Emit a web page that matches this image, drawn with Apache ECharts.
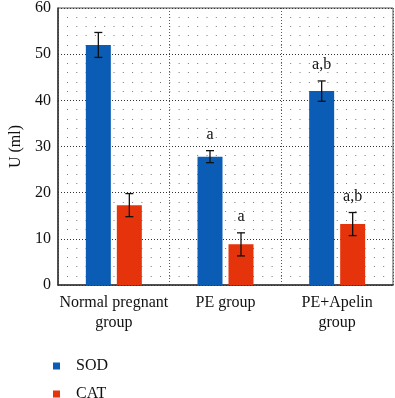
<!DOCTYPE html>
<html>
<head>
<meta charset="utf-8">
<script src="https://cdn.jsdelivr.net/npm/echarts@6/dist/echarts.min.js"></script>
<style>
  html, body { margin: 0; padding: 0; background: #fff; }
  #chart { width: 395px; height: 398px; }
</style>
</head>
<body>
<div id="chart"></div>
<script>
// data
var groups = ['Normal pregnant\ngroup', 'PE group', 'PE+Apelin\ngroup'];
var sodValues = [52, 27.8, 42];
var sodErr = [2.7, 1.3, 2.2];
var sodMarks = ['', 'a', 'a,b'];
var catValues = [17.3, 8.8, 13.2];
var catErr = [2.5, 2.5, 2.5];
var catMarks = ['', 'a', 'a,b'];
var yTicks = [0, 10, 20, 30, 40, 50, 60];

var BAR_W = 25;
var BAR_GAP = 6;
var SERIF = 'Liberation Serif';

// error bars + letters, one custom series per bar series
function errorSeries(values, errs, marks, side) {
  var data = values.map(function (v, i) { return [i, v, errs[i], marks[i]]; });
  return {
    type: 'custom',
    silent: true,
    z: 5,
    data: data,
    renderItem: function (params, api) {
      var i = api.value(0), v = api.value(1), e = api.value(2);
      var mark = data[params.dataIndex][3];
      var off = side * (BAR_W + BAR_GAP) / 2;
      var top = api.coord([i, v + e]);
      var bot = api.coord([i, v - e]);
      var x = top[0] + off;
      var cap = 4;
      var st = { stroke: '#111', lineWidth: 1.3 };
      var kids = [
        { type: 'line', shape: { x1: x, y1: top[1], x2: x, y2: bot[1] }, style: st },
        { type: 'line', shape: { x1: x - cap, y1: top[1], x2: x + cap, y2: top[1] }, style: st },
        { type: 'line', shape: { x1: x - cap, y1: bot[1], x2: x + cap, y2: bot[1] }, style: st }
      ];
      if (mark) {
        kids.push({
          type: 'text',
          style: {
            x: x, y: top[1] - 8, text: mark,
            fill: '#111', fontFamily: SERIF, fontSize: 16,
            align: 'center', verticalAlign: 'bottom'
          }
        });
      }
      return { type: 'group', children: kids };
    }
  };
}

var chart = echarts.init(document.getElementById('chart'), null, { renderer: 'canvas' });

var legendBase = {
  left: 53, padding: 0,
  itemWidth: 7, itemHeight: 7,
  icon: 'rect',
  textStyle: { fontFamily: SERIF, fontSize: 16, color: '#111', padding: [0, 0, 0, 11] }
};

chart.setOption({
  backgroundColor: '#fff',
  animation: false,
  textStyle: { fontFamily: SERIF },
  grid: {
    left: 53, right: 2, top: 6, bottom: 113,
    show: true, borderColor: '#555', borderWidth: 1
  },
  legend: [
    Object.assign({}, legendBase, { top: 358, data: ['SOD'] }),
    Object.assign({}, legendBase, { top: 386, data: ['CAT'] })
  ],
  xAxis: {
    type: 'category',
    data: groups,
    axisLine: { lineStyle: { color: '#333', width: 1.5 } },
    axisTick: { show: false },
    axisLabel: {
      interval: 0,
      fontFamily: SERIF, fontSize: 16, color: '#111', lineHeight: 20, margin: 8
    },
    splitLine: { show: true, lineStyle: { color: '#555', type: [1, 2] } }
  },
  yAxis: {
    type: 'value',
    min: 0, max: 60, interval: 10,
    name: 'U (ml)',
    nameLocation: 'middle',
    nameGap: 34,
    nameTextStyle: { fontFamily: SERIF, fontSize: 16, color: '#111' },
    axisLine: { show: true, lineStyle: { color: '#333', width: 1.5 } },
    axisTick: { show: false },
    axisLabel: {
      fontFamily: SERIF, fontSize: 16, color: '#111', margin: 7,
      formatter: function (v) { return yTicks.indexOf(v) >= 0 ? String(v) : ''; }
    },
    splitLine: { show: true, lineStyle: { color: '#333', type: [1, 2] } },
    minorTick: { show: false, splitNumber: 5 },
    minorSplitLine: { show: true, lineStyle: { color: '#777', type: [1, 8.3], dashOffset: -9 } }
  },
  series: [
    {
      name: 'SOD', type: 'bar', data: sodValues,
      barWidth: BAR_W, barGap: (BAR_GAP / BAR_W * 100) + '%',
      itemStyle: { color: '#0a5cb4' }
    },
    {
      name: 'CAT', type: 'bar', data: catValues,
      barWidth: BAR_W,
      itemStyle: { color: '#e5330b' }
    },
    errorSeries(sodValues, sodErr, sodMarks, -1),
    errorSeries(catValues, catErr, catMarks, 1)
  ]
});
</script>
</body>
</html>
